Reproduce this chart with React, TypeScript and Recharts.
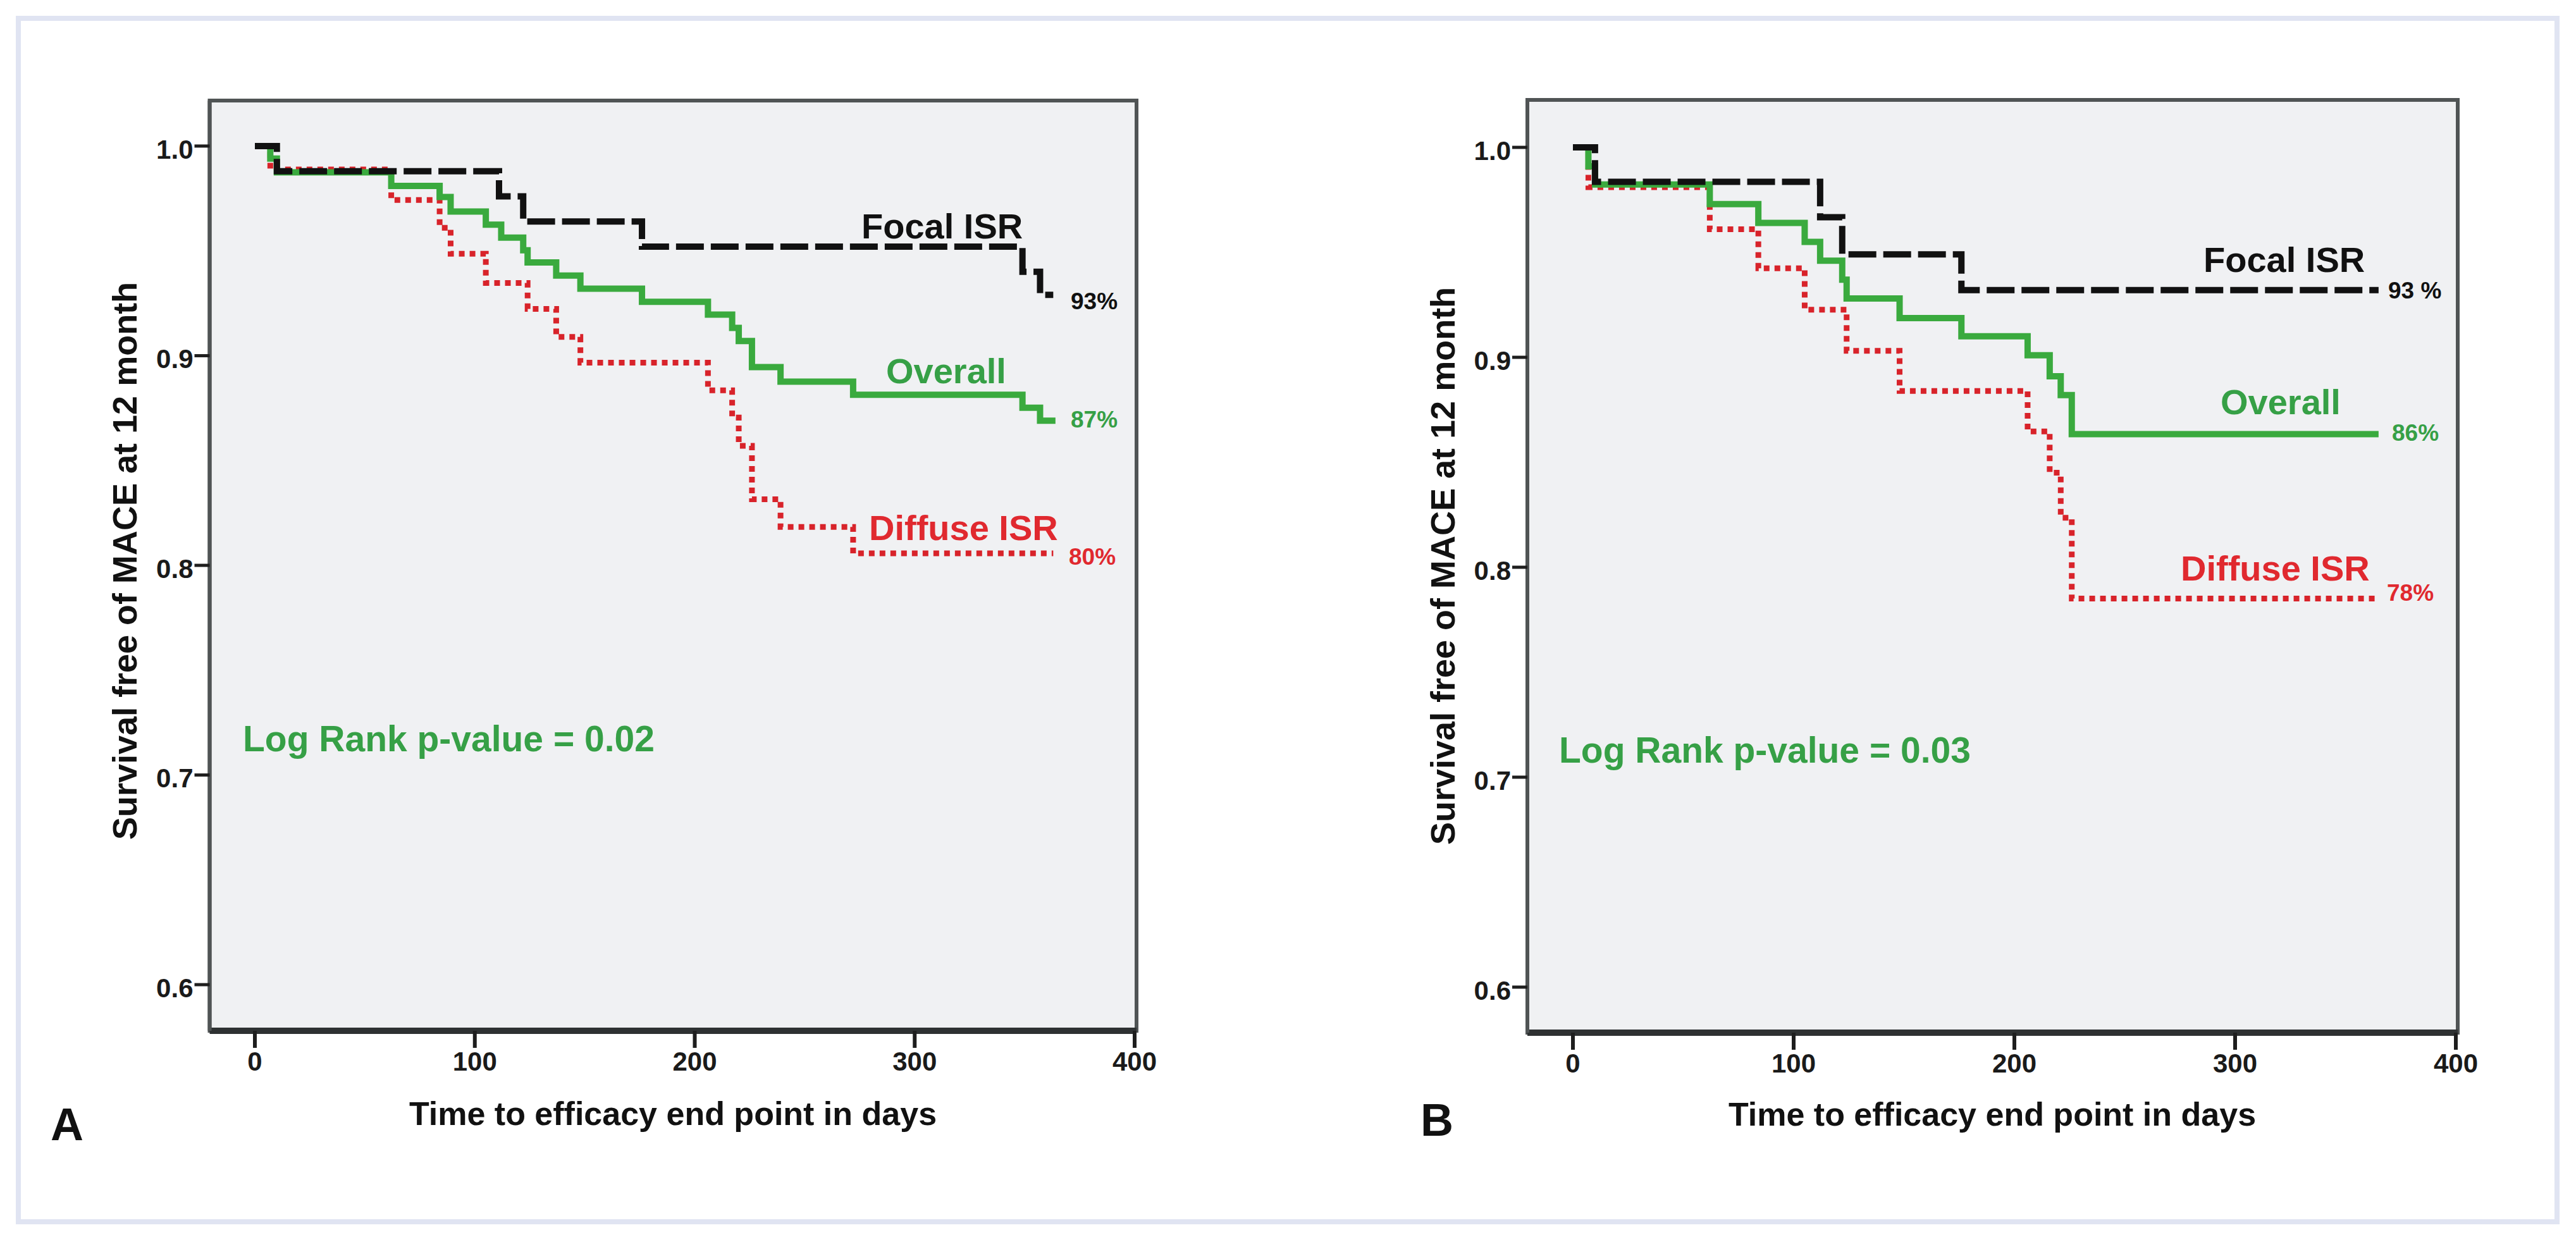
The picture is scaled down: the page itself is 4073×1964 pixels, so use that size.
import React from 'react';
import { LineChart, Line, XAxis, YAxis, CartesianGrid, ReferenceArea } from 'recharts';

// ---------- Panel A ----------
const daysFocalA = [0, 10, 111, 122, 176, 349, 357, 363];
const survFocalA = [1.0, 0.988, 0.976, 0.964, 0.952, 0.94, 0.929, 0.929];

const daysOverallA = [0, 7, 10, 62, 84, 89, 105, 112, 122, 124, 137, 148, 176, 206, 217, 220, 226, 239, 272, 349, 357, 364];
const survOverallA = [1.0, 0.994, 0.9875, 0.981, 0.9757, 0.9688, 0.9625, 0.9563, 0.9503, 0.9445, 0.9382, 0.932, 0.9257, 0.9196, 0.9133, 0.907, 0.8946, 0.8876, 0.8814, 0.8752, 0.869, 0.869];

const daysDiffuseA = [0, 7, 62, 84, 89, 105, 124, 137, 148, 206, 217, 220, 226, 239, 272, 363];
const survDiffuseA = [1.0, 0.9888, 0.9743, 0.961, 0.9486, 0.9347, 0.9223, 0.909, 0.8967, 0.8835, 0.8705, 0.857, 0.8315, 0.8183, 0.8057, 0.8057];

// ---------- Panel B ----------
const daysFocalB = [0, 10, 112, 122, 176, 365];
const survFocalB = [1.0, 0.9836, 0.9667, 0.949, 0.932, 0.932];

const daysOverallB = [0, 7, 10, 62, 84, 105, 112, 122, 124, 148, 176, 206, 216, 221, 226, 365];
const survOverallB = [1.0, 0.991, 0.9823, 0.973, 0.964, 0.955, 0.946, 0.937, 0.928, 0.9187, 0.91, 0.901, 0.891, 0.882, 0.8634, 0.8634];

const daysDiffuseB = [0, 7, 62, 84, 105, 124, 148, 206, 216, 221, 226, 364];
const survDiffuseB = [1.0, 0.981, 0.961, 0.9424, 0.9227, 0.9031, 0.884, 0.8647, 0.845, 0.8236, 0.7851, 0.7851];

// ---------- Axes ----------
const xTicks = [0, 100, 200, 300, 400];
const yTicks = [0.6, 0.7, 0.8, 0.9, 1.0];

// ---------- Texts ----------
const seriesNames = ['Focal ISR', 'Overall', 'Diffuse ISR'];
const endLabelsA = ['93%', '87%', '80%'];
const endLabelsB = ['93 %', '86%', '78%'];
const pValueA = 'Log Rank p-value = 0.02';
const pValueB = 'Log Rank p-value = 0.03';
const yTitle = 'Survival free of MACE at 12 month';
const xTitle = 'Time to efficacy end point in days';
const panelLetters = ['A', 'B'];

const FONT = '"Liberation Sans", Arial, Helvetica, sans-serif';
const BLACK = '#111111';
const GREEN = '#3aaa3e';
const GREEN_TXT = '#36a046';
const RED = '#d8232a';
const RED_TXT = '#e0292f';

const toRows = (days: number[], surv: number[]) => days.map((t, i) => ({ t, s: surv[i] }));

function XTick(props: any) {
  const { x, y, payload } = props;
  return (
    <text x={x} y={y} dy="0.71em" textAnchor="middle" fontFamily={FONT} fontSize={42} fontWeight="bold" fill="#1a1a1a">
      {payload.value}
    </text>
  );
}

function YTick(props: any) {
  const { x, y, payload } = props;
  return (
    <text x={x} y={y + 5} dy="0.355em" textAnchor="end" fontFamily={FONT} fontSize={42} fontWeight="bold" fill="#1a1a1a">
      {Number(payload.value).toFixed(1)}
    </text>
  );
}

type PanelProps = {
  left: number;
  width: number;
  margin: { top: number; right: number; bottom: number; left: number };
  xDomain: [number, number];
  yDomain: [number, number];
  focal: { t: number; s: number }[];
  overall: { t: number; s: number }[];
  diffuse: { t: number; s: number }[];
};

function Panel({ left, width, margin, xDomain, yDomain, focal, overall, diffuse }: PanelProps) {
  return (
    <div style={{ position: 'absolute', left, top: 0, width, height: 1964 }}>
      <LineChart width={width} height={1964} margin={margin}>
        <CartesianGrid fill="#f0f1f3" stroke="none" horizontal={false} vertical={false} />
        <ReferenceArea
          x1={xDomain[0]}
          x2={xDomain[1]}
          y1={yDomain[0]}
          y2={yDomain[1]}
          fill="none"
          stroke="#505455"
          strokeWidth={6}
          ifOverflow="visible"
        />
        <XAxis
          type="number"
          dataKey="t"
          domain={xDomain}
          allowDataOverflow
          ticks={xTicks}
          interval={0}
          height={100}
          axisLine={{ stroke: '#2e3132', strokeWidth: 10 }}
          tickLine={{ stroke: '#1e1e1e', strokeWidth: 6 }}
          tickSize={27}
          tickMargin={6}
          tick={<XTick />}
        />
        <YAxis
          type="number"
          domain={yDomain}
          allowDataOverflow
          ticks={yTicks}
          interval={0}
          width={100}
          axisLine={{ stroke: '#505455', strokeWidth: 6 }}
          tickLine={{ stroke: '#1e1e1e', strokeWidth: 5 }}
          tickSize={24}
          tickMargin={2}
          tick={<YTick />}
        />
        <Line
          data={diffuse}
          dataKey="s"
          type="stepAfter"
          stroke={RED}
          strokeWidth={9}
          strokeDasharray="9 8"
          dot={false}
          activeDot={false}
          isAnimationActive={false}
        />
        <Line
          data={overall}
          dataKey="s"
          type="stepAfter"
          stroke={GREEN}
          strokeWidth={10}
          dot={false}
          activeDot={false}
          isAnimationActive={false}
        />
        <Line
          data={focal}
          dataKey="s"
          type="stepAfter"
          stroke={BLACK}
          strokeWidth={10}
          strokeDasharray="44 11"
          dot={false}
          activeDot={false}
          isAnimationActive={false}
        />
      </LineChart>
    </div>
  );
}

function Txt({ x, y, size, color, children, weight = 'bold', anchor = 'start', transform }: any) {
  return (
    <text
      x={x}
      y={y}
      fontFamily={FONT}
      fontSize={size}
      fontWeight={weight}
      fill={color}
      textAnchor={anchor}
      transform={transform}
    >
      {children}
    </text>
  );
}

export default function App() {
  return (
    <div style={{ position: 'absolute', left: 0, top: 0, width: 4073, height: 1964, background: '#ffffff', overflow: 'hidden' }}>
      <div
        style={{
          position: 'absolute',
          left: 25,
          top: 25,
          width: 4022,
          height: 1911,
          border: '8px solid #e0e4f2',
          boxSizing: 'border-box',
        }}
      />
      <Panel
        left={0}
        width={2040}
        margin={{ top: 159, right: 243, bottom: 234, left: 231.5 }}
        xDomain={[-20.56, 400.86]}
        yDomain={[0.578, 1.0217]}
        focal={toRows(daysFocalA, survFocalA)}
        overall={toRows(daysOverallA, survOverallA)}
        diffuse={toRows(daysDiffuseA, survDiffuseA)}
      />
      <Panel
        left={2040}
        width={2033}
        margin={{ top: 158, right: 187, bottom: 231, left: 275 }}
        xDomain={[-20.63, 400.86]}
        yDomain={[0.5783, 1.0226]}
        focal={toRows(daysFocalB, survFocalB)}
        overall={toRows(daysOverallB, survOverallB)}
        diffuse={toRows(daysDiffuseB, survDiffuseB)}
      />
      <svg width={4073} height={1964} style={{ position: 'absolute', left: 0, top: 0, pointerEvents: 'none' }}>
        {/* Panel A annotations */}
        <Txt x={1362} y={377} size={56} color={BLACK}>{seriesNames[0]}</Txt>
        <Txt x={1693} y={489} size={37} color={BLACK}>{endLabelsA[0]}</Txt>
        <Txt x={1401} y={606} size={56} color={GREEN_TXT}>{seriesNames[1]}</Txt>
        <Txt x={1693} y={676} size={37} color={GREEN_TXT}>{endLabelsA[1]}</Txt>
        <Txt x={1374} y={854} size={56} color={RED_TXT}>{seriesNames[2]}</Txt>
        <Txt x={1690} y={893} size={37} color={RED_TXT}>{endLabelsA[2]}</Txt>
        <Txt x={384} y={1188} size={57} color={GREEN_TXT}>{pValueA}</Txt>
        <Txt x={0} y={0} size={54} color={BLACK} anchor="middle" transform="translate(216,887) rotate(-90)">{yTitle}</Txt>
        <Txt x={1064} y={1779} size={52} color={BLACK} anchor="middle">{xTitle}</Txt>
        <Txt x={80} y={1803} size={72} color={BLACK}>{panelLetters[0]}</Txt>

        {/* Panel B annotations */}
        <Txt x={3484} y={430} size={56} color={BLACK}>{seriesNames[0]}</Txt>
        <Txt x={3776} y={472} size={37} color={BLACK}>{endLabelsB[0]}</Txt>
        <Txt x={3511} y={655} size={56} color={GREEN_TXT}>{seriesNames[1]}</Txt>
        <Txt x={3782} y={697} size={37} color={GREEN_TXT}>{endLabelsB[1]}</Txt>
        <Txt x={3448} y={918} size={56} color={RED_TXT}>{seriesNames[2]}</Txt>
        <Txt x={3774} y={950} size={37} color={RED_TXT}>{endLabelsB[2]}</Txt>
        <Txt x={2465} y={1206} size={57} color={GREEN_TXT}>{pValueB}</Txt>
        <Txt x={0} y={0} size={54} color={BLACK} anchor="middle" transform="translate(2300,895) rotate(-90)">{yTitle}</Txt>
        <Txt x={3150} y={1780} size={52} color={BLACK} anchor="middle">{xTitle}</Txt>
        <Txt x={2246} y={1796} size={72} color={BLACK}>{panelLetters[1]}</Txt>
      </svg>
    </div>
  );
}
